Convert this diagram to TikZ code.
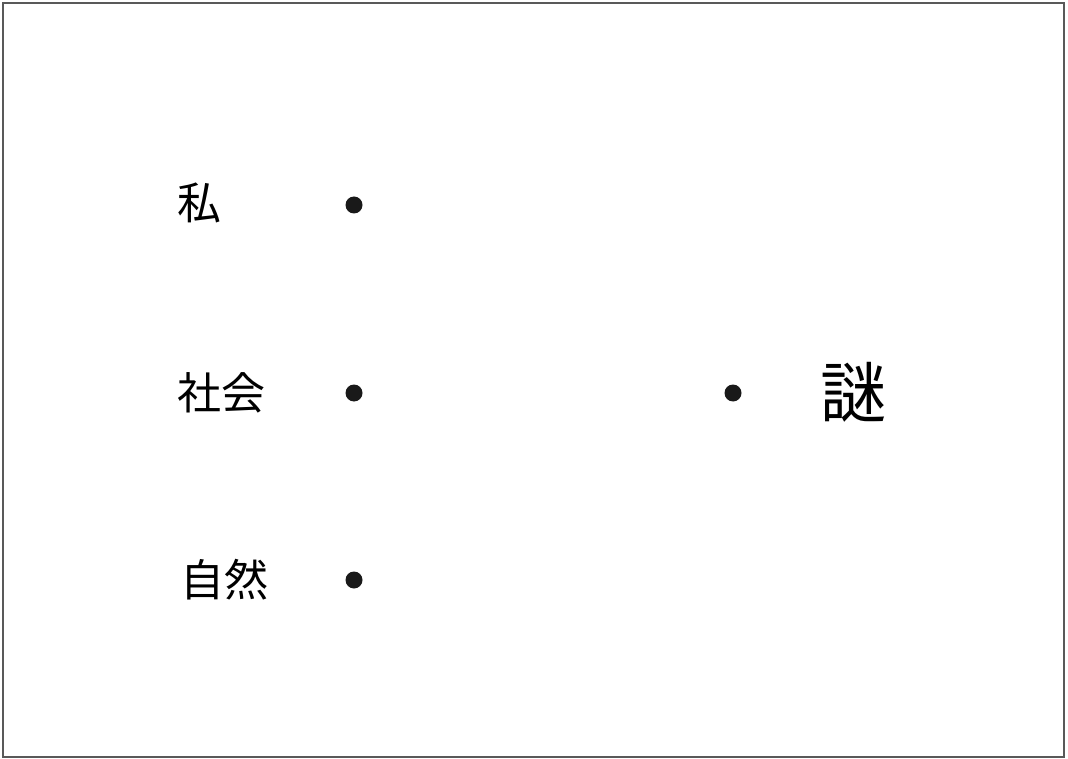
\documentclass[tikz,border=0pt]{standalone}
\usepackage{fontspec}
\setmainfont{Noto Sans CJK JP}
\usepackage{tikz}

\begin{document}
\begin{tikzpicture}[
			x=1pt,y=-1pt,
			word/.style={anchor=west,inner sep=0pt,font=\fontsize{44}{48}\selectfont},
			bigword/.style={anchor=west,inner sep=0pt,font=\fontsize{66}{70}\selectfont},
			dot/.style={circle,fill=black!90,inner sep=0pt,minimum size=17pt},
			]
			\useasboundingbox (0,0) rectangle (1068,759);
			\draw [line width=1.2pt,black!65] (3,3) rectangle (1064,757);
			\node [word] (me) at (177,203) {私};
			\node [word] (society) at (177,393) {社会};
			\node [word] (nature) at (180,580) {自然};
			\node [dot] (dme) at (354,205) {};
			\node [dot] (dsociety) at (354,393) {};
			\node [dot] (dnature) at (354,580) {};
			\node [dot] (driddle) at (733,393) {};
			\node [bigword] (riddle) at (820,392) {謎};
		\end{tikzpicture}
\end{document}
